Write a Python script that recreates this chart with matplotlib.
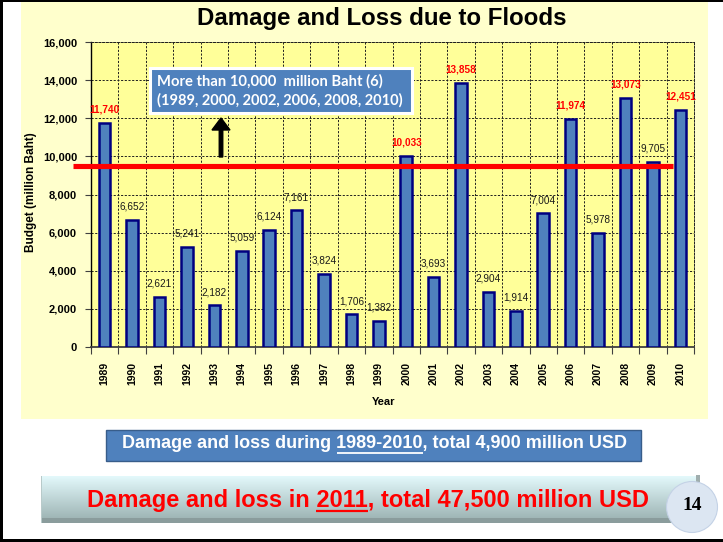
import matplotlib
matplotlib.use('Agg')
import matplotlib.pyplot as plt
import matplotlib.transforms as mtrans
import numpy as np
from matplotlib.patches import Rectangle, Ellipse, FancyArrow

plt.rcParams['font.family'] = ['Liberation Sans', 'DejaVu Sans']

# ---------------- data ----------------
years = ['1989', '1990', '1991', '1992', '1993', '1994', '1995', '1996', '1997', '1998', '1999',
         '2000', '2001', '2002', '2003', '2004', '2005', '2006', '2007', '2008', '2009', '2010']
damage = [11740, 6652, 2621, 5241, 2182, 5059, 6124, 7161, 3824, 1706, 1382,
          10033, 3693, 13858, 2904, 1914, 7004, 11974, 5978, 13073, 9705, 12451]
threshold = 9500
highlight_above = 10000
yticks = [0, 2000, 4000, 6000, 8000, 10000, 12000, 14000, 16000]

title = 'Damage and Loss due to Floods'
ylabel = 'Budget (million Baht)'
xlabel = 'Year'
note_lines = ['More than 10,000  million Baht (6)', '(1989, 2000, 2002, 2006, 2008, 2010)']
summary1_pre, summary1_ul, summary1_post = 'Damage and loss during ', '1989-2010', ', total 4,900 million USD'
summary2_pre, summary2_ul, summary2_post = 'Damage and loss in ', '2011', ', total 47,500 million USD'
page_no = '14'

# ---------------- figure ----------------
W, H = 723, 542
fig = plt.figure(figsize=(W / 100, H / 100), dpi=100)

bg = fig.add_axes([0, 0, 1, 1], zorder=0)
bg.axis('off')
bg.add_patch(Rectangle((0, 0), W, H, fc='white', ec='none'))
bg.add_patch(Rectangle((21, 0), 687, 419, fc='#FFFFCC', ec='none'))
bg.set_xlim(0, W)
bg.set_ylim(H, 0)

# ---------------- main chart ----------------
ax = fig.add_axes([91 / W, 1 - 347 / H, 603 / W, 305 / H], zorder=1)
ax.set_facecolor('#FFFF99')
x = np.arange(len(years))
ax.bar(x, damage, width=0.42, color='#4F81BD', edgecolor='#000080', linewidth=1.8, zorder=3)
ax.set_xlim(-0.5, len(years) - 0.5)
ax.set_ylim(yticks[0], yticks[-1])

ax.set_yticks(yticks)
ax.set_yticklabels([f'{v:,}' for v in yticks], fontsize=8, fontweight='bold')
ax.set_xticks(np.arange(-0.5, len(years), 1))
ax.set_xticklabels([])
ax.set_xticks(x, minor=True)
ax.set_xticklabels(years, minor=True, rotation=90, fontsize=7.5, fontweight='bold')
ax.tick_params(axis='x', which='major', length=5, width=0.8, color='#404040', direction='out')
ax.tick_params(axis='x', which='minor', length=0, pad=11)
ax.tick_params(axis='y', length=4, width=0.8, color='#404040', pad=6)

ax.set_axisbelow(True)
ax.grid(True, which='major', linestyle=(0, (2.2, 1.6)), color='#202020', linewidth=0.7)

ax.spines['left'].set_color('black')
ax.spines['left'].set_linewidth(1.0)
ax.spines['bottom'].set_color('#404040')
ax.spines['bottom'].set_linewidth(1.3)
for s in ('top', 'right'):
    ax.spines[s].set_linestyle((0, (2.2, 1.6)))
    ax.spines[s].set_linewidth(0.7)
    ax.spines[s].set_color('#202020')

# threshold line (extends slightly left of the axis, stops before last bar)
blend = mtrans.blended_transform_factory(ax.transAxes, ax.transData)
ax.plot([-0.030, 0.965], [threshold, threshold], color='#FF0000', linewidth=3.7,
        transform=blend, clip_on=False, zorder=5, solid_capstyle='butt')

for i, v in enumerate(damage):
    hi = v > highlight_above
    ax.annotate(f'{v:,}', (i, v), xytext=(0, 6), textcoords='offset points',
                ha='center', va='bottom', fontsize=7.2,
                color='#FF0000' if hi else '#1A1A1A',
                fontweight='bold' if hi else 'normal', zorder=6)

# ---------------- overlay ----------------
ov = fig.add_axes([0, 0, 1, 1], zorder=2)
ov.axis('off')
ov.patch.set_visible(False)

ov.text(381.5, 19, title, ha='center', va='center', fontsize=17.3, fontweight='bold')
ov.text(31, 192, ylabel, rotation=90, ha='center', va='center', fontsize=8.5, fontweight='bold')
ov.text(384, 402, xlabel, ha='center', va='center', fontsize=8, fontweight='bold')

# note box and arrow
ov.add_patch(Rectangle((150, 68), 262, 45, fc='#4F81BD', ec='white', lw=2.2))
ov.text(157, 81, note_lines[0], ha='left', va='center', fontsize=10.6, fontweight='bold',
        color='white', family=['Lato', 'DejaVu Sans'])
ov.text(157, 100, note_lines[1], ha='left', va='center', fontsize=10.5, fontweight='bold',
        color='white', family=['Lato', 'DejaVu Sans'])
ov.add_patch(FancyArrow(221, 157, 0, -39, width=3.5, head_width=18, head_length=12,
                        length_includes_head=True, color='black'))

# blue summary box
ov.add_patch(Rectangle((106, 430), 535, 31, fc='#4F81BD', ec='#385D8A', lw=1))

# gradient summary box
grad = np.linspace(0, 1, 64)[:, None]
top_c = np.array([0.89, 0.975, 0.985])
bot_c = np.array([0.62, 0.71, 0.71])
img = top_c[None, None, :] * (1 - grad[:, :, None]) + bot_c[None, None, :] * grad[:, :, None]
img = np.repeat(img, 2, axis=1)
ov.imshow(img, extent=(41, 700, 519, 476), aspect='auto', interpolation='bilinear', zorder=1)
ov.add_patch(Rectangle((41, 518), 659, 5, fc='#8A9C9C', ec='none', zorder=2))
ov.add_patch(Rectangle((696, 475), 4, 8, fc='#A0AEAE', ec='none', zorder=2))
ov.add_patch(Rectangle((41, 476), 1.2, 47, fc='#B8CACA', ec='none', zorder=2))

# page circle
ov.add_patch(Ellipse((692, 507), 51, 51, fc='#DCE6F2', ec='#C4D2E6', lw=0.8, zorder=3))
ov.text(692, 506, page_no, ha='center', va='center', fontsize=14, fontweight='bold',
        family=['Liberation Serif', 'DejaVu Serif'], zorder=4)

# frame
ov.add_patch(Rectangle((0, 0), W, 2, fc='black', ec='none', zorder=5))
ov.add_patch(Rectangle((0, 0), 3, H, fc='black', ec='none', zorder=5))
ov.add_patch(Rectangle((0, 539), W, 2.5, fc='black', ec='none', zorder=5))

ov.set_xlim(0, W)
ov.set_ylim(H, 0)

renderer = fig.canvas.get_renderer()


def underlined(xc, yc, pre, ul, post, size, color, uy, ulw):
    full = pre + ul + post
    t = ov.text(xc, yc, full, ha='center', va='center', fontsize=size,
                fontweight='bold', color=color, zorder=4)
    bb = t.get_window_extent(renderer)

    def width(s):
        tmp = ov.text(0, 0, s, fontsize=size, fontweight='bold')
        w = tmp.get_window_extent(renderer).width
        tmp.remove()
        return w
    w_end = width(pre + ul)
    w_ul = width(ul)
    inv = ov.transData.inverted()
    x0 = inv.transform((bb.x0 + w_end - w_ul, 0))[0]
    x1 = inv.transform((bb.x0 + w_end, 0))[0]
    ov.plot([x0, x1], [uy, uy], color=color, lw=ulw, zorder=4, solid_capstyle='butt')


underlined(375, 444, summary1_pre, summary1_ul, summary1_post, 13, 'white', 453, 1.3)
underlined(368, 500, summary2_pre, summary2_ul, summary2_post, 17, '#FF0000', 511, 1.6)

ov.set_xlim(0, W)
ov.set_ylim(H, 0)

fig.savefig('out.png', dpi=100)
